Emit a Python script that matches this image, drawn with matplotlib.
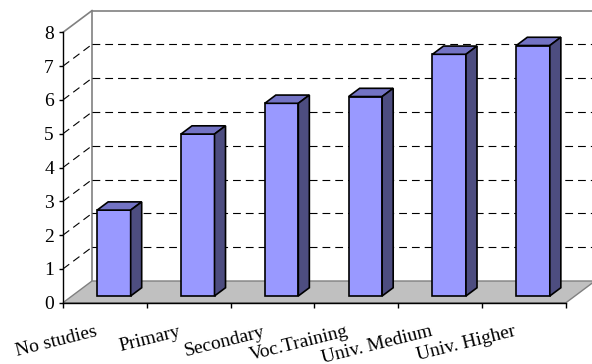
import matplotlib
matplotlib.use("Agg")
import matplotlib.pyplot as plt
from matplotlib.patches import Polygon

categories = ["No studies", "Primary", "Secondary", "Voc.Training", "Univ. Medium", "Univ. Higher"]
values = [2.54, 4.79, 5.70, 5.90, 7.15, 7.41]
y_ticks = [0, 1, 2, 3, 4, 5, 6, 7, 8]

FRONT = "#9999ff"
TOP = "#7373c4"
SIDE = "#4d4d80"
FLOOR = "#c0c0c0"
WALL = "#808080"

plt.rcParams['font.family'] = ['Liberation Serif', 'DejaVu Serif']

fig = plt.figure(figsize=(5.92, 3.64), dpi=100)
ax = fig.add_axes([0, 0, 1, 1])
n = len(categories)
ymax = y_ticks[-1]

# pixel geometry -> data units
px_x = 83.83
px_y = 33.8
ax.set_xlim(-63 / px_x, (592 - 63) / px_x)
ax.set_ylim(-(364 - 302.7) / px_y, 302.7 / px_y)

DX = 29 / px_x
DY = 21.7 / px_y

# back wall frame
ax.plot([0, DX], [ymax, ymax + DY], color=WALL, lw=1.2, zorder=1)
ax.plot([DX, n + DX], [ymax + DY, ymax + DY], color=WALL, lw=1.2, zorder=1)
ax.plot([DX, DX], [DY, ymax + DY], color=WALL, lw=1.2, zorder=1)

# gridlines on back wall and left wall
for v in y_ticks[1:-1]:
    ax.plot([DX, n + DX], [v + DY, v + DY], color="black", lw=0.8,
            linestyle=(0, (7, 4.5)), zorder=1)
    ax.plot([0, DX], [v, v + DY], color="black", lw=0.8,
            linestyle=(0, (7, 4.5)), zorder=1)

# floor
ax.add_patch(Polygon([(0, 0), (n, 0), (n + DX, DY), (DX, DY)], closed=True,
                     facecolor=FLOOR, edgecolor=WALL, lw=1.0, zorder=2))

# bars
f = 0.31
b = 0.38
w = 0.4
for i, v in enumerate(values):
    x0 = i + 0.3 + f * DX
    y0 = f * DY
    ax.bar(x0, v, width=w, bottom=y0, align='edge', color=FRONT,
           edgecolor="black", lw=1.2, zorder=4)
    top = [(x0, y0 + v), (x0 + w, y0 + v), (x0 + w + b * DX, y0 + v + b * DY),
           (x0 + b * DX, y0 + v + b * DY)]
    side = [(x0 + w, y0), (x0 + w + b * DX, y0 + b * DY),
            (x0 + w + b * DX, y0 + v + b * DY), (x0 + w, y0 + v)]
    ax.add_patch(Polygon(top, closed=True, facecolor=TOP, edgecolor="black",
                         lw=1.2, zorder=4, joinstyle='miter'))
    ax.add_patch(Polygon(side, closed=True, facecolor=SIDE, edgecolor="black",
                         lw=1.2, zorder=4, joinstyle='miter'))

# axes spines
for s in ['top', 'right']:
    ax.spines[s].set_visible(False)
ax.spines['left'].set_position(('data', 0))
ax.spines['left'].set_bounds(0, ymax)
ax.spines['bottom'].set_position(('data', 0))
ax.spines['bottom'].set_bounds(0, n)
ax.spines['left'].set_linewidth(1.0)
ax.spines['bottom'].set_linewidth(1.0)
ax.spines['left'].set_zorder(5)
ax.spines['bottom'].set_zorder(5)

ax.set_yticks(y_ticks)
ax.set_yticklabels([str(t) for t in y_ticks], fontsize=14)
ax.tick_params(axis='y', direction='out', length=3, width=1, pad=3.5)
ax.set_xticks(range(n + 1))
ax.set_xticklabels([""] * (n + 1))
ax.tick_params(axis='x', direction='out', length=3.5, width=1)

label_y = -(336 - 302.7) / px_y
for i, c in enumerate(categories):
    ax.text(i + 0.5 - 0.085, label_y, c, fontsize=14, rotation=14,
            rotation_mode='anchor', ha='right', va='baseline')

fig.savefig("out.png", dpi=100)
